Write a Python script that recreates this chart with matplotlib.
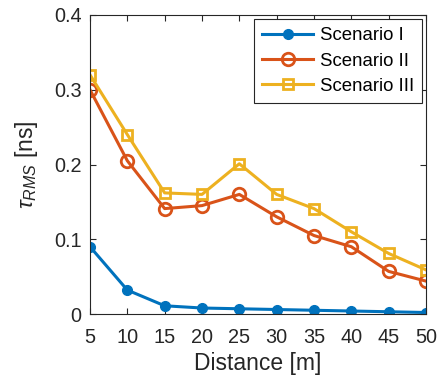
import matplotlib
matplotlib.use("Agg")
import matplotlib.pyplot as plt

plt.rcParams['font.family'] = ['Liberation Sans', 'DejaVu Sans']
plt.rcParams['mathtext.fontset'] = 'custom'
plt.rcParams['mathtext.rm'] = 'Liberation Sans'
plt.rcParams['mathtext.it'] = 'Liberation Sans:italic'

distance = [5, 10, 15, 20, 25, 30, 35, 40, 45, 50]
scenario_1 = [0.090, 0.032, 0.011, 0.008, 0.007, 0.006, 0.005, 0.004, 0.003, 0.002]
scenario_2 = [0.300, 0.205, 0.141, 0.145, 0.160, 0.130, 0.105, 0.090, 0.057, 0.044]
scenario_3 = [0.320, 0.240, 0.162, 0.160, 0.201, 0.160, 0.141, 0.110, 0.081, 0.059]
labels = ['Scenario I', 'Scenario II', 'Scenario III']
xticks = [5, 10, 15, 20, 25, 30, 35, 40, 45, 50]
yticks = [0, 0.1, 0.2, 0.3, 0.4]

fig = plt.figure(figsize=(4.4, 3.79), dpi=100)
ax = fig.add_axes([90/440, 1-314/379, (426-90)/440, (314-15)/379])

ax.plot(distance, scenario_1, color='#0072BD', lw=2.2, marker='o', ms=7,
        mfc='#0072BD', mec='#0072BD', label=labels[0])
ax.plot(distance, scenario_2, color='#D95319', lw=2.2, marker='o', ms=9,
        mfc='none', mec='#D95319', mew=2, label=labels[1])
ax.plot(distance, scenario_3, color='#EDB120', lw=2.2, marker='s', ms=7,
        mfc='none', mec='#EDB120', mew=2, label=labels[2])

ax.set_xlim(5, 50)
ax.set_ylim(0, 0.4)
ax.set_xticks(xticks)
ax.set_yticks(yticks)
ax.set_yticklabels(['0', '0.1', '0.2', '0.3', '0.4'])
ax.tick_params(direction='in', top=True, right=True, labelsize=14.3,
               colors='#262626', length=4, width=0.8)
ax.tick_params(axis='x', pad=10)
ax.tick_params(axis='y', pad=6)
for s in ax.spines.values():
    s.set_color('#262626')
    s.set_linewidth(0.8)
ax.set_xlabel('Distance [m]', fontsize=16.5, color='#262626', labelpad=4)
ax.set_ylabel(r'$\tau_{RMS}$ [ns]', fontsize=16.5, color='#262626', labelpad=10)

leg = ax.legend(loc='upper right', fontsize=13.4, frameon=True, fancybox=False,
                edgecolor='#262626', framealpha=1, handlelength=2.75,
                borderaxespad=0.2, labelspacing=0.45, handletextpad=0.35,
                borderpad=0.45)
leg.get_frame().set_linewidth(0.8)

fig.savefig('out.png', dpi=100)
